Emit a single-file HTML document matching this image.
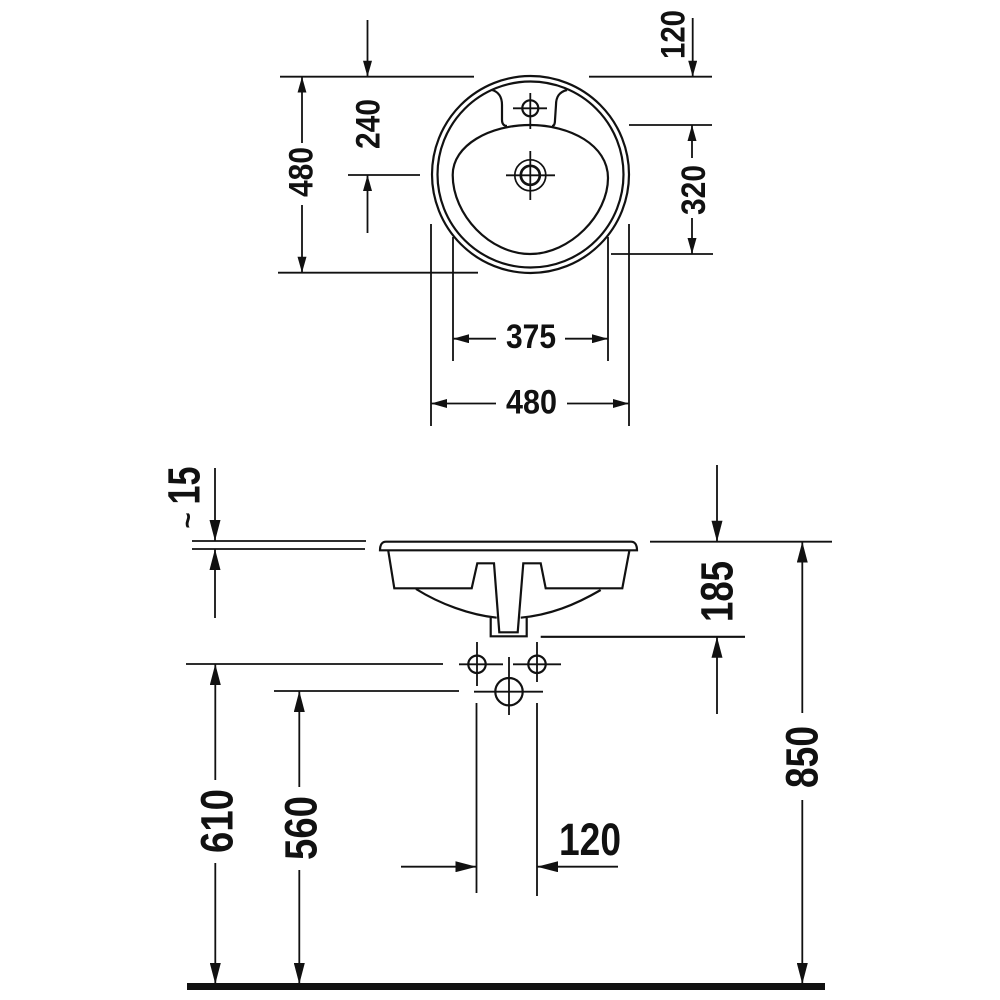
<!DOCTYPE html>
<html><head><meta charset="utf-8"><style>
html,body{margin:0;padding:0;background:#fff}
svg{display:block}
text{font-family:"Liberation Sans",sans-serif;font-weight:bold;fill:#111;text-anchor:middle}
.b{font-size:34px}
.l{font-size:45px}
</style></head><body>
<svg width="1000" height="1000" viewBox="0 0 1000 1000" xmlns="http://www.w3.org/2000/svg">
<defs>
<marker id="a" viewBox="0 0 21 11" refX="21" refY="5.5" markerWidth="21" markerHeight="11" markerUnits="userSpaceOnUse" orient="auto"><polygon points="0,0 21,5.5 0,11" fill="#111"/></marker>
<marker id="s" viewBox="0 0 16 9" refX="16" refY="4.5" markerWidth="16" markerHeight="9" markerUnits="userSpaceOnUse" orient="auto"><polygon points="0,0 16,4.5 0,9" fill="#111"/></marker>
</defs>

<!-- top view -->
<g fill="none" stroke="#111" stroke-width="2.200">
<circle cx="530.5" cy="174.5" r="98.5"/>
<circle cx="530.5" cy="174.5" r="93"/>
<path d="M530,125 C570,125 608,145 608,178 C608,215 570,254 530,254 C490,254 452.700,215 452.700,175 C452.700,145 490,125 530,125Z"/>
<path d="M492,90 C499,92 502,97 502,105 L502,120 C502,124 504,126 507,126"/>
<path d="M567,90 C559,92 556,97 556,105 L555,120 C555,124 554,126 552,126"/>
<circle cx="530.300" cy="108.300" r="8"/>
<circle cx="530.300" cy="175.300" r="15.500" stroke-width="1.700"/>
<circle cx="530.300" cy="175.300" r="9.500" stroke-width="2.700"/>
</g>
<g stroke="#111" stroke-width="1.800" fill="none">
<path d="M513,108.300H547M530.300,93V129M506,175.300H555M530.300,151V200"/>
<path d="M280,76.700H474M589,76.700H712M629,125H712M611,254H713M278,272.700H478M348,175H420"/>
<path d="M431,224V426M629,224V426M453,237V361M608,237V361"/>
</g>
<g stroke="#111" stroke-width="1.800" fill="none" marker-end="url(#s)">
<line x1="367.500" y1="20" x2="367.500" y2="76.700"/>
<line x1="367.500" y1="233" x2="367.500" y2="175"/>
<line x1="692.700" y1="18" x2="692.700" y2="76.700"/>
<line x1="302" y1="143" x2="302" y2="76.700"/>
<line x1="302" y1="205" x2="302" y2="272.700"/>
<line x1="692" y1="158" x2="692" y2="125"/>
<line x1="692" y1="218" x2="692" y2="254"/>
<line x1="496" y1="338.700" x2="453" y2="338.700"/>
<line x1="565" y1="338.700" x2="608" y2="338.700"/>
<line x1="496" y1="403.500" x2="431" y2="403.500"/>
<line x1="567" y1="403.500" x2="629" y2="403.500"/>
</g>
<text class="b" transform="translate(312.500,172) rotate(-90)" textLength="50" lengthAdjust="spacingAndGlyphs">480</text>
<text class="b" transform="translate(379.500,124) rotate(-90)" textLength="50" lengthAdjust="spacingAndGlyphs">240</text>
<text class="b" transform="translate(684.500,34.500) rotate(-90)" textLength="49" lengthAdjust="spacingAndGlyphs">120</text>
<text class="b" transform="translate(705,190) rotate(-90)" textLength="50" lengthAdjust="spacingAndGlyphs">320</text>
<text class="b" x="531" y="348" textLength="50" lengthAdjust="spacingAndGlyphs">375</text>
<text class="b" x="531.500" y="413.500" textLength="51" lengthAdjust="spacingAndGlyphs">480</text>

<!-- side view -->
<g fill="none" stroke="#111" stroke-width="2.200">
<path d="M380,550.300 C380,545 382,541.700 386,541.700 H631 C635,541.700 637,545 637,550.300 Z"/>
<path d="M388.300,551 L394.300,588.300 H471.700 L477.300,563.300 H494 L499.300,632.300 H517.700 L523.300,563.300 H540.700 L545.700,588.300 H622.300 L629.300,551"/>
<path d="M416,589 C440,604 470,615 496.700,617.700"/>
<path d="M600.700,590 C575,605 550,615 520.700,617.700"/>
<path d="M490.700,617.700 V636.300 H526.700 V617.700"/>
<path d="M540.700,636.800 H745"/>
<circle cx="477" cy="664.300" r="8.700"/>
<circle cx="537" cy="664.300" r="8.700"/>
<circle cx="509" cy="691.700" r="13.700"/>
</g>
<g stroke="#111" stroke-width="1.800" fill="none">
<path d="M459,664.300H503M477,642V686M513,664.300H561M537,642V682M474,691.700H543M509,657V715"/>
<path d="M476.500,703V893M537,703V896"/>
<path d="M186,664H443M274,691H459"/>
<path d="M192,541H366M192,549H365M650,541.700H832"/>
</g>
<g stroke="#111" stroke-width="1.800" fill="none" marker-end="url(#a)">
<line x1="215" y1="468" x2="215" y2="541"/>
<line x1="215" y1="618" x2="215" y2="549"/>
<line x1="717" y1="465" x2="717" y2="541.700"/>
<line x1="717" y1="714" x2="717" y2="636.800"/>
<line x1="802.300" y1="713" x2="802.300" y2="541.700"/>
<line x1="802.300" y1="800" x2="802.300" y2="984"/>
<line x1="215.300" y1="780" x2="215.300" y2="664"/>
<line x1="215.300" y1="863" x2="215.300" y2="984"/>
<line x1="299.300" y1="787" x2="299.300" y2="691"/>
<line x1="299.300" y1="870" x2="299.300" y2="984"/>
<line x1="401" y1="866.700" x2="476.500" y2="866.700"/>
<line x1="618" y1="866.700" x2="537" y2="866.700"/>
</g>
<rect x="187" y="983" width="638" height="7" fill="#111"/>
<text class="l" transform="translate(199.500,485.500) rotate(-90)" textLength="38" lengthAdjust="spacingAndGlyphs">15</text>
<text transform="translate(197,520.500) rotate(-90)" style="font-size:28px">~</text>
<text class="l" transform="translate(732.500,591.500) rotate(-90)" textLength="61" lengthAdjust="spacingAndGlyphs">185</text>
<text class="l" transform="translate(817.500,757) rotate(-90)" textLength="62" lengthAdjust="spacingAndGlyphs">850</text>
<text class="l" transform="translate(232.500,821) rotate(-90)" textLength="64" lengthAdjust="spacingAndGlyphs">610</text>
<text class="l" transform="translate(316.500,828) rotate(-90)" textLength="64" lengthAdjust="spacingAndGlyphs">560</text>
<text class="l" x="590" y="855" textLength="62" lengthAdjust="spacingAndGlyphs">120</text>
</svg>
</body></html>
